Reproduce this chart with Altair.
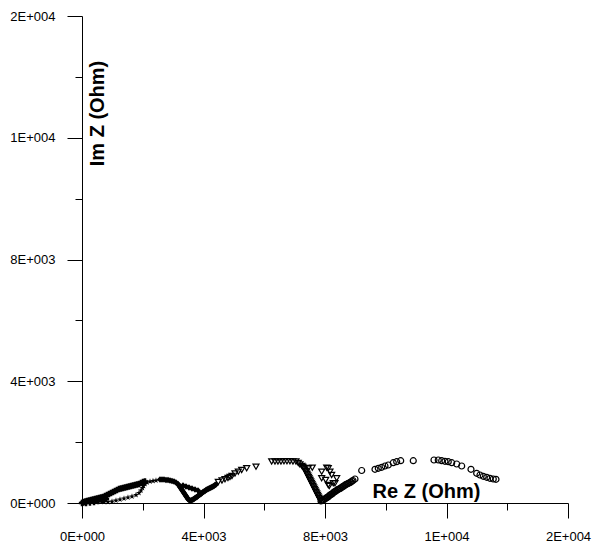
import altair as alt
import pandas as pd

# ---- data (Re Z, Im Z in Ohm) ----
s1_re = [0, 33, 66, 115, 165, 230, 296, 362, 428, 494, 560, 626, 691, 757, 823, 889, 955, 1021,
         1086, 1152, 1218, 1284, 1350, 1416, 1481, 1547, 1613, 1679, 1745, 1811, 1876, 1942, 2008, 2074,
         132, 263, 395, 527, 658, 790]
s1_im = [0, 16, 33, 49, 66, 82, 99, 115, 131, 148, 164, 181, 197, 230, 263, 296, 329, 361,
         394, 427, 460, 476, 493, 509, 526, 542, 559, 575, 591, 608, 624, 657, 690, 706,
         0, 16, 33, 66, 99, 131]

s2_re = [593, 724, 856, 988, 1119, 1251, 1383, 1514, 1646, 1778, 1876, 1942, 1992, 2025, 2074,
         2140, 2239, 2337, 2436]
s2_im = [66, 33, 33, 49, 82, 115, 148, 181, 214, 263, 329, 411, 493, 559, 624,
         674, 706, 723, 739]

s3_re = [2568, 2634, 2699, 2765, 2831, 2897, 2963, 3029, 3094, 3160, 3226, 3292, 3358, 3423, 3489,
         3555, 3621, 3687, 3753, 3819, 3885, 3950, 4016, 4082, 4148, 4214, 4280, 4345, 4411,
         3325, 3423, 3522, 3621, 3720, 3819,
         3193, 3259, 3325, 3391, 3456, 3522,
         3588, 3654, 3720, 3786, 3852, 3917, 3983, 4049, 4115, 4181, 4247, 4312, 4378]
s3_im = [772, 772, 772, 756, 756, 739, 723, 706, 674, 624, 526, 427, 329, 230, 131,
         82, 99, 131, 181, 230, 279, 329, 378, 427, 460, 493, 526, 559, 608,
         575, 542, 509, 476, 444, 411,
         575, 476, 378, 279, 181, 99,
         82, 115, 164, 197, 263, 296, 361, 394, 444, 476, 509, 542, 591]

s4_re = [4487, 4609, 4708, 4806, 4872, 4938, 5037, 5145, 5257, 5422, 5728, 6245, 6354, 6452, 6551,
         6650, 6749, 6847, 6946, 7045, 7121, 7177, 7242, 7308, 7358, 7407, 7456, 7506, 7555, 7605,
         7654, 7703, 7753, 7802, 7851,
         7275, 7331, 7380, 7430, 7479, 7529, 7578, 7627, 7677, 7726, 7776, 7825,
         7450, 7581, 7891, 8055, 8108, 8164, 8220, 7891, 8023, 8108, 8273, 8385, 8141, 8329]
s4_im = [690, 739, 779, 822, 854, 887, 969, 1029, 1084, 1140, 1193, 1364, 1364, 1364, 1364,
         1370, 1370, 1370, 1364, 1364, 1314, 1265, 1216, 1150, 1052, 953, 854, 756, 657, 559,
         460, 361, 263, 164, 82,
         1183, 1101, 1002, 904, 805, 706, 608, 509, 411, 312, 214, 115,
         1140, 1160, 1029, 1160, 1140, 1029, 920, 812, 756, 591, 647, 812, 559, 647]

s5_re = [7868, 7934, 8000, 8065, 8131, 8197, 8263, 8329, 8395, 8460, 8526, 8592, 8658, 8724, 8790,
         8855, 8921, 8987, 9208, 9646, 9755, 9866, 9975, 10084, 10248, 10360, 10492, 10906, 11588,
         11729, 11841, 11950, 12058, 12171, 12335, 12500, 12806, 12993, 13102, 13211, 13323, 13431,
         13540, 13629,
         7901, 7966, 8032, 8098, 8164, 8230, 8296, 8362, 8427, 8493, 8559, 8625, 8691, 8757, 8822, 8888]
s5_im = [66, 99, 131, 181, 230, 279, 329, 378, 427, 460, 493, 542, 591, 624, 657,
         690, 739, 789, 1068, 1107, 1140, 1173, 1216, 1249, 1324, 1357, 1390, 1390, 1413,
         1413, 1390, 1370, 1357, 1324, 1282, 1216, 1107, 976, 920, 877, 845, 812,
         789, 779,
         82, 115, 164, 197, 263, 296, 361, 394, 444, 476, 526, 559, 608, 641, 674, 723]

series_names = ["s1", "s2", "s3", "s4", "s5"]
series_filled = [True, True, True, False, False]
star = ("M0,-1L0.2245,-0.309L0.951,-0.309L0.363,0.118L0.588,0.809L0,0.382"
        "L-0.588,0.809L-0.363,0.118L-0.951,-0.309L-0.2245,-0.309Z")
series_shapes = ["cross", star, "diamond", "triangle-down", "circle"]

tick_major = [0, 4000, 8000, 12000, 16000]
tick_labels = ["0E+000", "4E+003", "8E+003", "1E+004", "2E+004"]
tick_all = [0, 2000, 4000, 6000, 8000, 10000, 12000, 14000, 16000]

rows = []
for name, filled, re, im in zip(series_names, series_filled,
                                [s1_re, s2_re, s3_re, s4_re, s5_re],
                                [s1_im, s2_im, s3_im, s4_im, s5_im]):
    for a, b in zip(re, im):
        rows.append({"re": a, "im": b, "series": name, "filled": filled})
df = pd.DataFrame(rows)

label_expr = (f"indexof({tick_major}, datum.value) >= 0 ? "
              f"{tick_labels}[indexof({tick_major}, datum.value)] : ''")
tick_cond = {"condition": {"test": f"indexof({tick_major}, datum.value) >= 0", "value": 15},
             "value": 7}

common_axis = dict(values=tick_all, labelExpr=label_expr, tickSize=tick_cond,
                   labelPadding=12, labelFont="Liberation Sans", labelFontSize=13,
                   labelColor="black", tickColor="black", domainColor="black",
                   grid=False, labelFlush=False, labelOverlap=False,
                   titleFont="Liberation Sans", titleFontSize=20, titleFontWeight="bold",
                   titleColor="black", titleAlign="center")

x_enc = alt.X("re:Q", scale=alt.Scale(domain=[0, 16000], nice=False, zero=False),
              axis=alt.Axis(title="Re Z (Ohm)", titleX=344, titleY=-6,
                            titleBaseline="alphabetic", **common_axis))
y_enc = alt.Y("im:Q", scale=alt.Scale(domain=[0, 16000], nice=False, zero=False),
              axis=alt.Axis(title="Im Z (Ohm)", titleX=15, titleY=97, titleAngle=270,
                            titleBaseline="middle", **common_axis))
shape_enc = alt.Shape("series:N", scale=alt.Scale(domain=series_names, range=series_shapes),
                      legend=None)

base = alt.Chart(df).encode(x=x_enc, y=y_enc, shape=shape_enc)

filled_layer = base.transform_filter("datum.filled").mark_point(
    filled=True, color="black", size=40, opacity=1)
open_layer = base.transform_filter("!datum.filled").mark_point(
    filled=False, color="black", size=36, strokeWidth=1.2, opacity=1)

chart = alt.layer(filled_layer, open_layer).properties(
    width=486, height=487,
    autosize=alt.AutoSizeParams(type="none"),
    padding={"left": 82, "top": 16, "right": 24, "bottom": 44},
    background="white",
).configure_view(strokeWidth=0)

chart.save("out.html", embed_options={"renderer": "svg", "actions": False})
